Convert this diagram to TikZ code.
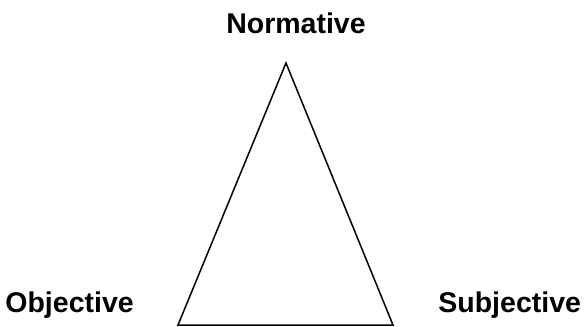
\documentclass[tikz,border=0pt]{standalone}
\usepackage{fontspec}
\setmainfont{Liberation Sans}
\usepackage{tikz}
\usepackage{xcolor}

\begin{document}
\begin{tikzpicture}[
  x=0.5pt, y=-0.5pt,
  corner/.style={
    font=\fontsize{14.25}{16}\selectfont\bfseries,
    inner sep=0pt, anchor=base west
  },
  edge/.style={line width=0.75pt, line join=miter},
]
\useasboundingbox (0,0) rectangle (586,327);
\coordinate (top)   at (286, 63);
\coordinate (left)  at (178, 325);
\coordinate (right) at (393, 325);
\node[corner, anchor=base] (normative)  at (296, 33)  {Normative};
\node[corner]              (objective)  at (5, 312)   {Objective};
\node[corner]              (subjective) at (438, 312) {Subjective};
\draw[edge] (top) -- (left) -- (right) -- cycle;
\end{tikzpicture}
\end{document}
